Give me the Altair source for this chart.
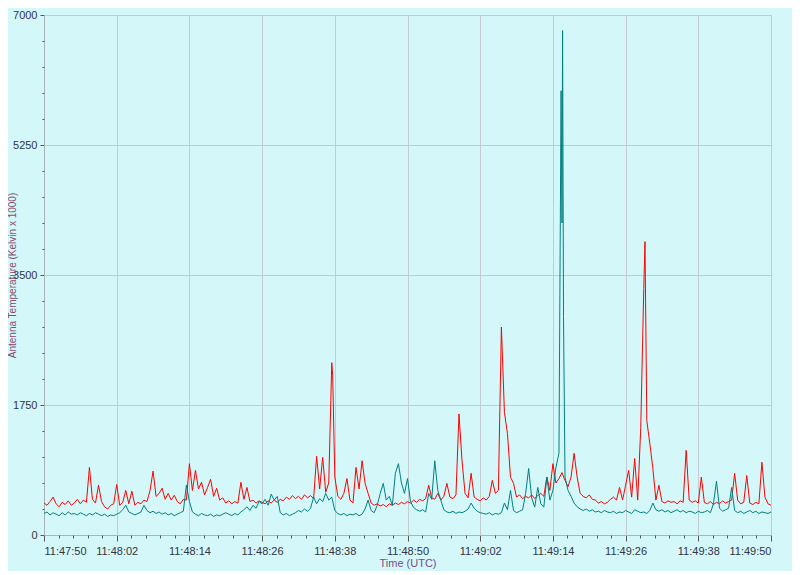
import altair as alt
import pandas as pd

# seconds after 11:47:50 UTC, sampled every 0.5 s
red_values = [
    430, 400, 450, 510, 420, 380, 440, 410, 460, 400,
    430, 480, 420, 470, 440, 910, 480, 430, 670, 450,
    380, 350, 400, 420, 680, 400, 440, 600, 420, 590,
    400, 440, 420, 470, 450, 600, 860, 520, 560, 630,
    480, 560, 470, 535, 450, 420, 480, 470, 960, 600,
    870, 620, 710, 540, 640, 750, 520, 630, 470, 500,
    430, 460, 420, 450, 430, 710, 480, 640, 450, 470,
    430, 460, 440, 420, 460, 430, 470, 440, 480, 460,
    510, 480, 530, 490, 520, 480, 540, 500, 530, 490,
    1060, 620, 1045, 575, 700, 2320, 780, 520, 480, 560,
    760, 470, 430, 910, 620, 1000, 695, 560, 430, 400,
    420, 390, 410, 380, 420, 400, 430, 410, 440, 420,
    450, 430, 470, 440, 480, 460, 490, 670, 500, 480,
    560, 470, 520, 695, 510, 490, 540, 1630, 1000, 560,
    500, 830, 510, 480, 460, 500, 470, 520, 735, 560,
    600, 2800, 1650, 1365, 780, 695, 510, 540, 490, 520,
    500, 540, 490, 530, 560, 520, 780, 600, 960, 700,
    760, 840, 735, 650, 780, 1100, 780, 560, 520, 500,
    540, 480, 470, 430, 450, 420, 440, 480, 510, 470,
    640, 470, 670, 870, 510, 1030, 470, 1445, 3320, 1540,
    1230, 895, 470, 670, 450, 430, 460, 440, 450, 420,
    460, 440, 1140, 470, 440, 460, 430, 780, 440, 420,
    450, 410, 440, 420, 460, 430, 450, 470, 830, 470,
    420, 440, 800, 430, 410, 440, 420, 980, 510, 420,
    400,
]
teal_values = [
    290, 310, 270, 300, 280, 260, 300, 270, 310, 280,
    290, 270, 300, 280, 260, 290, 270, 300, 280, 260,
    280, 250, 270, 260, 280, 300, 340, 400, 310, 290,
    270, 290, 310, 400, 330, 300, 320, 290, 310, 280,
    300, 270, 290, 260, 280, 300, 320, 670, 450, 310,
    280, 260, 290, 270, 260, 280, 250, 270, 260, 280,
    300, 280, 260, 290, 270, 310, 340, 380, 330, 400,
    360, 450, 420, 480, 400, 550, 470, 520, 300, 270,
    290, 260, 280, 300, 330, 310, 350, 320, 360, 510,
    420, 490, 450, 560, 470, 510, 330, 290, 270, 290,
    260, 280, 270, 290, 260, 280, 350, 470, 330, 300,
    400, 560, 695, 470, 520, 400, 830, 960, 700, 560,
    760, 450, 370, 340, 320, 340, 310, 560, 480, 1000,
    600, 470, 340, 310, 300, 320, 290, 310, 300, 320,
    350, 430, 360, 320, 300, 290, 280, 300, 270, 290,
    280, 300, 430, 340, 600, 330, 300, 320, 340, 560,
    895, 500, 375, 640, 420, 375, 780, 470, 600, 910,
    1100, 4200, 780, 600, 520, 430, 380, 350, 330, 350,
    320, 340, 310, 320, 300, 330, 310, 300, 320, 290,
    310, 300, 330, 310, 290, 340, 320, 300, 310, 290,
    330, 430, 340, 320, 340, 310, 330, 300, 320, 340,
    310, 330, 300, 320, 310, 290, 320, 300, 310, 330,
    300, 420, 725, 360, 320, 340, 360, 640, 330, 300,
    320, 290, 310, 330, 300, 320, 290, 310, 300, 290,
    310,
]
red_extra_t = [47.65, 99.2]
red_extra_v = [2150, 3950]
teal_extra_t = [85.35, 85.6, 85.75]
teal_extra_v = [5980, 6790, 2940]

major_x = [0, 12, 24, 36, 48, 60, 72, 84, 96, 108, 120]
minor_x = [round(2.4 * i, 2) for i in range(51) if i % 5 != 0]
major_y = [0, 1750, 3500, 5250, 7000]
minor_y = [v for v in range(0, 7001, 350) if v % 1750 != 0]

assert len(red_values) == 241 and len(teal_values) == 241

rows = []
for i, v in enumerate(red_values):
    rows.append({"t": i * 0.5, "v": v, "s": "A"})
for t, v in zip(red_extra_t, red_extra_v):
    rows.append({"t": t, "v": v, "s": "A"})
for i, v in enumerate(teal_values):
    rows.append({"t": i * 0.5, "v": v, "s": "B"})
for t, v in zip(teal_extra_t, teal_extra_v):
    rows.append({"t": t, "v": v, "s": "B"})
df = pd.DataFrame(rows).sort_values(["s", "t"])

FONT = "Liberation Sans"
label_expr = ("'11:' + format(floor((2870 + datum.value) / 60), '02d') + ':' + "
              "format((2870 + datum.value) % 60, '02d')")

xscale = alt.Scale(domain=[0, 120], nice=False, zero=False)
yscale = alt.Scale(domain=[0, 7000], nice=False)

lines = alt.Chart(df).mark_line(strokeWidth=1, clip=True).encode(
    x=alt.X("t:Q", scale=xscale,
            axis=alt.Axis(values=major_x, labelExpr=label_expr, title="Time (UTC)",
                          grid=True, gridColor="#c2ccd0", gridWidth=1,
                          domainColor="#a9b4b8", tickColor="#555555", tickSize=6,
                          labelColor="#333344", labelFont=FONT, labelFontSize=11,
                          labelPadding=4, titleFont=FONT, titleFontSize=11,
                          titleFontWeight="normal", titleColor="#7a4a8a",
                          titlePadding=1, orient="bottom")),
    y=alt.Y("v:Q", scale=yscale,
            axis=alt.Axis(values=major_y, format="d", title="Antenna Temperature (Kelvin x 1000)",
                          grid=True, gridColor="#c2ccd0", gridWidth=1,
                          domainColor="#a9b4b8", tickColor="#555555", tickSize=4,
                          labelColor="#333344", labelFont=FONT, labelFontSize=11,
                          labelPadding=3, titleFont=FONT, titleFontSize=10,
                          titleFontWeight="normal", titleColor="#8a4a6a",
                          titleX=-32, titleY=260, titleAngle=270,
                          titleAlign="center", titleBaseline="middle",
                          orient="left")),
    color=alt.Color("s:N", scale=alt.Scale(domain=["A", "B"], range=["#ff0000", "#008080"]),
                    legend=None),
    order=alt.Order("t:Q"),
)

minor = alt.Chart(df).mark_point(opacity=0).encode(
    x=alt.X("t:Q", scale=xscale,
            axis=alt.Axis(values=minor_x, labels=False, grid=False, domain=False,
                          tickColor="#555555", tickSize=3, title=None, orient="bottom")),
    y=alt.Y("v:Q", scale=yscale,
            axis=alt.Axis(values=minor_y, labels=False, grid=False, domain=False,
                          tickColor="#555555", tickSize=2, title=None, orient="left")),
)

chart = alt.layer(lines, minor).resolve_axis(x="independent", y="independent").properties(
    width=727, height=520,
    autosize="none",
    padding={"left": 36, "top": 7, "right": 21, "bottom": 36},
    background="#d4f8fa",
).configure_view(stroke="#b8c4c8", fill="#d4f8fa")

chart.save("out.html", embed_options={"renderer": "svg", "actions": False})
